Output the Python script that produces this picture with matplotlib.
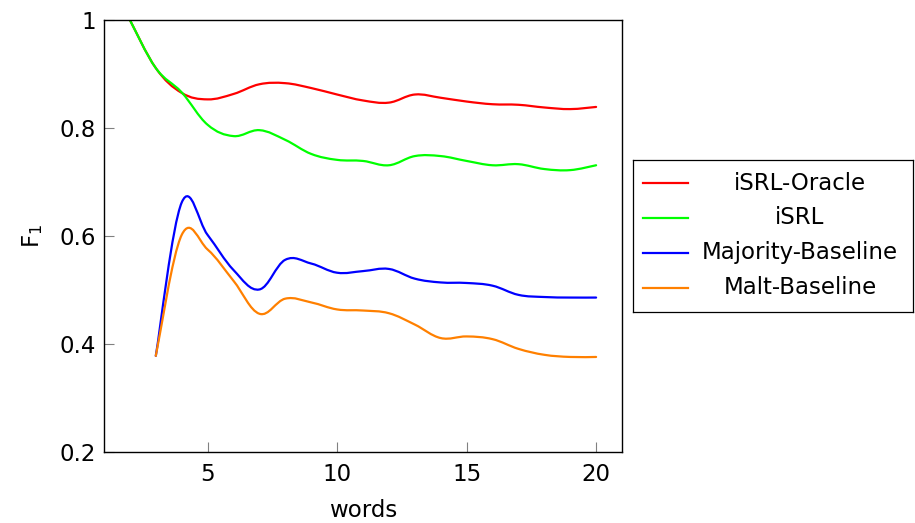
import matplotlib
matplotlib.use("Agg")
import matplotlib.pyplot as plt
from matplotlib.path import Path
from matplotlib.patches import PathPatch
import numpy as np

plt.rcParams['font.family'] = ['DejaVu Sans']
plt.rcParams['mathtext.fontset'] = 'dejavusans'

words_full = [2, 3, 4, 5, 6, 7, 8, 9, 10, 11, 12, 13, 14, 15, 16, 17, 18, 19, 20]
words_base = [3, 4, 5, 6, 7, 8, 9, 10, 11, 12, 13, 14, 15, 16, 17, 18, 19, 20]

isrl_oracle = [1.0, 0.911, 0.865, 0.853, 0.863, 0.881, 0.883, 0.874, 0.862, 0.851,
               0.847, 0.862, 0.856, 0.849, 0.844, 0.843, 0.838, 0.835, 0.839]
isrl = [1.0, 0.911, 0.866, 0.806, 0.785, 0.796, 0.778, 0.752, 0.741, 0.739,
        0.731, 0.748, 0.748, 0.739, 0.731, 0.733, 0.724, 0.722, 0.731]
majority = [0.378, 0.662, 0.602, 0.537, 0.501, 0.556, 0.549, 0.532, 0.535, 0.539,
            0.521, 0.514, 0.513, 0.508, 0.491, 0.487, 0.486, 0.486]
malt = [0.378, 0.602, 0.575, 0.517, 0.456, 0.484, 0.477, 0.464, 0.462, 0.457,
        0.436, 0.411, 0.414, 0.409, 0.391, 0.380, 0.376, 0.376]

labels = ['iSRL-Oracle', 'iSRL', 'Majority-Baseline', 'Malt-Baseline']
colors = ['#ff0000', '#00ff00', '#0000ff', '#ff8000']
series = [(words_full, isrl_oracle), (words_full, isrl),
          (words_base, majority), (words_base, malt)]

FS = 16.5
W, H = 915, 523
fig = plt.figure(figsize=(9.15, 5.23), dpi=100)
ax = fig.add_axes([104 / W, 1 - 452 / H, (622 - 104) / W, (452 - 20) / H])


def smooth_path(ax, xs, ys, color, tension=0.55):
    # pgfplots-like "smooth" bezier through the data points (display space)
    pts = ax.transData.transform(np.column_stack([xs, ys]))
    t = tension / 3.0
    verts = [pts[0]]
    codes = [Path.MOVETO]
    n = len(pts)
    for i in range(n - 1):
        p0 = pts[i - 1] if i > 0 else pts[i]
        p1 = pts[i]
        p2 = pts[i + 1]
        p3 = pts[i + 2] if i + 2 < n else pts[i + 1]
        c1 = p1 + t * (p2 - p0)
        c2 = p2 - t * (p3 - p1)
        verts += [c1, c2, p2]
        codes += [Path.CURVE4] * 3
    path = Path(ax.transData.inverted().transform(np.array(verts)), codes)
    patch = PathPatch(path, facecolor='none', edgecolor=color, lw=1.6,
                      transform=ax.transData, capstyle='round', joinstyle='round')
    ax.add_patch(patch)


ax.set_xlim(1, 21)
ax.set_ylim(0.2, 1.0)
fig.canvas.draw()

for (xs, ys), c in zip(series, colors):
    smooth_path(ax, xs, ys, c)

ax.set_xticks([5, 10, 15, 20])
ax.set_yticks([0.2, 0.4, 0.6, 0.8, 1.0])
ax.set_yticklabels(['0.2', '0.4', '0.6', '0.8', '1'])
ax.tick_params(direction='in', length=7.5, width=0.8, color='#808080',
               labelsize=FS, top=False, right=False)
ax.tick_params(axis='x', pad=8)
ax.tick_params(axis='y', pad=6)
for s in ax.spines.values():
    s.set_linewidth(1.0)
ax.set_xlabel('words', fontsize=FS, labelpad=9)
ax.set_ylabel('F$_1$', fontsize=FS, labelpad=10)

# legend box (drawn as its own axes, pixel units)
lx0, lx1, ly0, ly1 = 633, 913, 160, 312
lax = fig.add_axes([lx0 / W, 1 - ly1 / H, (lx1 - lx0) / W, (ly1 - ly0) / H])
lax.set_xlim(0, lx1 - lx0)
lax.set_ylim(ly1 - ly0, 0)
lax.set_xticks([])
lax.set_yticks([])
for s in lax.spines.values():
    s.set_linewidth(0.9)
row_y = [23, 58, 93, 128]
for lab, c, yy in zip(labels, colors, row_y):
    lax.plot([10, 55], [yy, yy], color=c, lw=1.6)
    lax.text(167, yy, lab, ha='center', va='center', fontsize=FS)

fig.savefig('out.png', dpi=100)
